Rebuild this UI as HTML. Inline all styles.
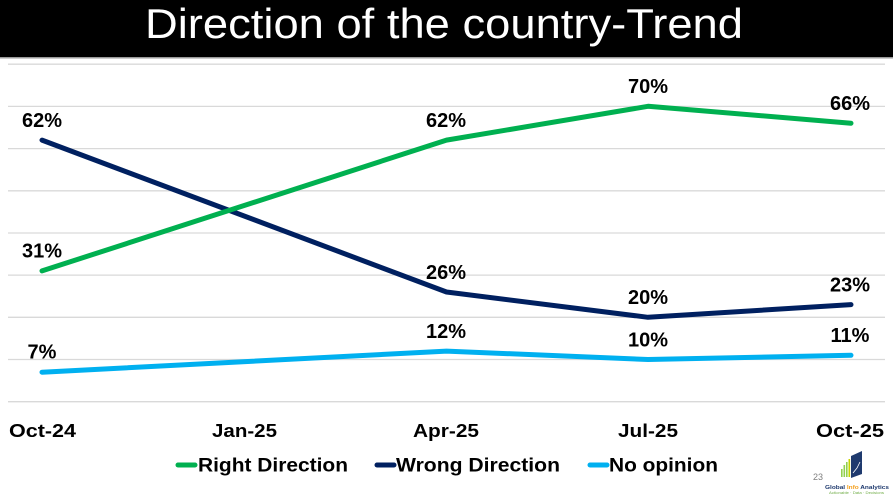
<!DOCTYPE html>
<html>
<head>
<meta charset="utf-8">
<style>
  html, body { margin:0; padding:0; background:#ffffff; }
  body { width:893px; height:502px; overflow:hidden; }
  svg { display:block; }
  text { font-family: "Liberation Sans", Arial, sans-serif; }
</style>
</head>
<body>
<svg width="893" height="502" viewBox="0 0 893 502" xmlns="http://www.w3.org/2000/svg">
  <rect x="0" y="0" width="893" height="502" fill="#ffffff"/>
  <!-- Title bar -->
  <rect x="0" y="0" width="893" height="57" fill="#000000"/>
  <rect x="0" y="57" width="893" height="1.5" fill="#9a9a9a"/>
  <text x="145" y="38" font-size="42" fill="#ffffff" textLength="598" lengthAdjust="spacingAndGlyphs">Direction of the country-Trend</text>

  <!-- Gridlines -->
  <g stroke="#d9d9d9" stroke-width="1.3">
    <line x1="8" y1="64.2" x2="885" y2="64.2"/>
    <line x1="8" y1="106.4" x2="885" y2="106.4"/>
    <line x1="8" y1="148.6" x2="885" y2="148.6"/>
    <line x1="8" y1="190.8" x2="885" y2="190.8"/>
    <line x1="8" y1="233.0" x2="885" y2="233.0"/>
    <line x1="8" y1="275.1" x2="885" y2="275.1"/>
    <line x1="8" y1="317.3" x2="885" y2="317.3"/>
    <line x1="8" y1="359.5" x2="885" y2="359.5"/>
    <line x1="8" y1="401.7" x2="885" y2="401.7"/>
  </g>

  <!-- Series -->
  <g fill="none" stroke-width="5" stroke-linejoin="round" stroke-linecap="round">
    <polyline stroke="#00B0F0" points="42,372.2 446.5,351.1 648,359.5 851,355.3"/>
    <polyline stroke="#002060" points="42,140.1 446.5,292 648,317.3 851,304.6"/>
    <polyline stroke="#00B050" points="42,270.9 446.5,140.1 648,106.3 851,123.2"/>
  </g>

  <!-- Data labels -->
  <g font-size="20" font-weight="bold" fill="#000000" text-anchor="middle">
    <text x="42" y="257.5">31%</text>
    <text x="446" y="126.8">62%</text>
    <text x="648" y="92.8">70%</text>
    <text x="850" y="110">66%</text>

    <text x="42" y="126.8">62%</text>
    <text x="446" y="279">26%</text>
    <text x="648" y="304">20%</text>
    <text x="850" y="291.5">23%</text>

    <text x="42" y="358.5">7%</text>
    <text x="446" y="338">12%</text>
    <text x="648" y="346.3">10%</text>
    <text x="850" y="342">11%</text>
  </g>

  <!-- Category axis labels -->
  <g font-size="18.5" font-weight="bold" fill="#000000">
    <text x="9" y="437" textLength="67" lengthAdjust="spacingAndGlyphs">Oct-24</text>
    <text x="212" y="437" textLength="65" lengthAdjust="spacingAndGlyphs">Jan-25</text>
    <text x="413" y="437" textLength="66" lengthAdjust="spacingAndGlyphs">Apr-25</text>
    <text x="618" y="437" textLength="60" lengthAdjust="spacingAndGlyphs">Jul-25</text>
    <text x="816" y="437" textLength="68" lengthAdjust="spacingAndGlyphs">Oct-25</text>
  </g>

  <!-- Legend -->
  <g stroke-width="5" stroke-linecap="round">
    <line x1="178" y1="465" x2="195" y2="465" stroke="#00B050"/>
    <line x1="377" y1="465" x2="394" y2="465" stroke="#002060"/>
    <line x1="590" y1="465" x2="607" y2="465" stroke="#00B0F0"/>
  </g>
  <g font-size="19" font-weight="bold" fill="#000000">
    <text x="198" y="471.7" textLength="150" lengthAdjust="spacingAndGlyphs">Right Direction</text>
    <text x="396" y="471.7" textLength="164" lengthAdjust="spacingAndGlyphs">Wrong Direction</text>
    <text x="609" y="471.7" textLength="109" lengthAdjust="spacingAndGlyphs">No opinion</text>
  </g>

  <!-- Page number and logo -->
  <text x="813" y="480" font-size="9" fill="#7f7f7f">23</text>
  <g>
    <rect x="841" y="469" width="1.6" height="8" fill="#92D050"/>
    <rect x="843.5" y="465" width="1.6" height="12" fill="#92D050"/>
    <rect x="846" y="462" width="1.6" height="15" fill="#92D050"/>
    <rect x="848.5" y="459" width="1.6" height="18" fill="#c8d400"/>
    <path d="M851,456 L862,451 L862,474 L851,478 Z" fill="#1f3a6e"/>
    <path d="M853,473 L857,468 L860,462" stroke="#ffffff" stroke-width="0.8" fill="none"/>
    <text x="825" y="489" font-size="5.5" font-family="Liberation Serif, serif" font-weight="bold" fill="#1f3a6e" textLength="64" lengthAdjust="spacingAndGlyphs">Global <tspan fill="#f4a020">Info</tspan> Analytics</text>
    <text x="829" y="494" font-size="3.5" fill="#70ad47" textLength="55" lengthAdjust="spacingAndGlyphs">Actionable · Data · Decisions</text>
  </g>
</svg>
</body>
</html>
